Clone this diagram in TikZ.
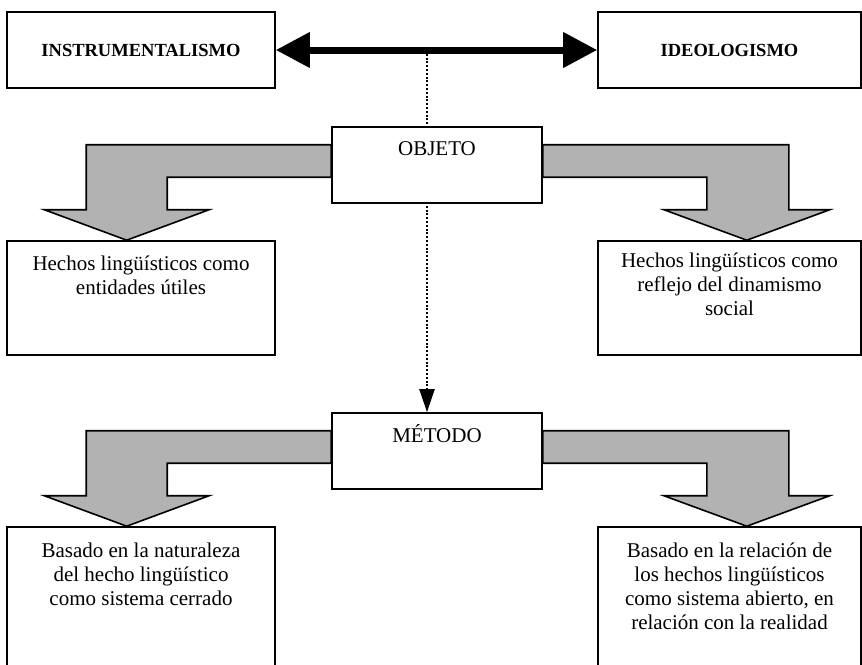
\documentclass[tikz,border=0pt]{standalone}
\usepackage{fontspec}
\setmainfont{Liberation Serif}
\usetikzlibrary{arrows.meta,calc}

% text block at the top of a box: [first baseline]{width}{height}{text}
\newcommand{\boxtext}[4][29pt]{\parbox[c][#3][t]{#2}{\centering\fontsize{21}{24}\selectfont\rule{0pt}{#1}#4}}

\begin{document}
\begin{tikzpicture}[x=1pt, y=-1pt,
    box/.style={draw, line width=1.6pt, fill=white, inner sep=0pt},
    title/.style={box, minimum height=76pt, font=\bfseries\fontsize{18.5}{22}\selectfont},
    bigarrow/.style={draw, line width=1.6pt, fill=black!30},
    link/.style={line width=7pt, {Triangle[length=34pt,width=34pt]}-{Triangle[length=34pt,width=34pt]}},
    dots/.style={line width=2pt, dash pattern=on 2pt off 1.8pt, -{Triangle[length=23pt,width=15pt]}}]
    \useasboundingbox (0,0) rectangle (862,664);

    % top row
    \node[title, minimum width=268pt] (instr) at (141,50) {INSTRUMENTALISMO};
    \node[title, minimum width=263pt] (ideo) at (729.5,50) {IDEOLOGISMO};

    % boxes
    \node[box] (metodo) at (437,451) {\boxtext{210pt}{76pt}{MÉTODO}};
    \node[box] (hechosA) at (141,298) {\boxtext{268pt}{114pt}{Hechos lingüísticos como\\ entidades útiles}};
    \node[box] (hechosB) at (729.5,298) {\boxtext[26pt]{263pt}{114pt}{Hechos lingüísticos como\\ reflejo del dinamismo\\ social}};
    \node[box] (basadoA) at (141,610) {\boxtext[30pt]{268pt}{166pt}{Basado en la naturaleza\\ del hecho lingüístico\\ como sistema cerrado}};
    \node[box] (basadoB) at (729.5,610) {\boxtext[30pt]{263pt}{166pt}{Basado en la relación de\\ los hechos lingüísticos\\ como sistema abierto, en\\ relación con la realidad}};

    \coordinate (mid) at (427,50);
    \draw[dots] (mid) -- (mid |- metodo.north);
    \node[box] (objeto) at (437,165) {\boxtext[28pt]{210pt}{76pt}{OBJETO}};

    \draw[link] (instr) -- (ideo);

    \foreach \src in {objeto,metodo}{
        \draw[bigarrow] ($(\src.north west)+(0,18.5)$) -- ++(-245,0) -- ++(0,65) -- ++(-42,0)
            -- ++(82.5,30.5) -- ++(82.5,-30.5) -- ++(-42,0) -- ++(0,-32.5) -- ++(164,0) -- cycle;
        \draw[bigarrow] ($(\src.north east)+(0,18.5)$) -- ++(246,0) -- ++(0,65) -- ++(41,0)
            -- ++(-83,30.5) -- ++(-83,-30.5) -- ++(43,0) -- ++(0,-32.5) -- ++(-164,0) -- cycle;
    }
\end{tikzpicture}
\end{document}
